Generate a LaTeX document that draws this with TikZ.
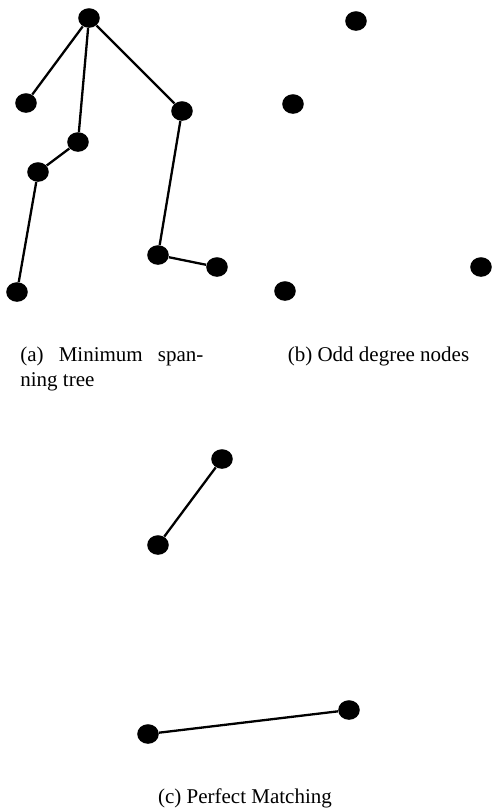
\documentclass[tikz,border=0pt]{standalone}
\usepackage{fontspec}
\setmainfont{Liberation Serif}
\usetikzlibrary{shapes.geometric}
\tikzset{
  vtx/.style={ellipse, fill=black, draw=none, inner sep=0pt, minimum width=10.8pt, minimum height=9.8pt},
  edge/.style={line width=1.15pt, black},
  captxt/.style={inner sep=0pt, font=\fontsize{10.5}{12.6}\selectfont}
}
\begin{document}
\begin{tikzpicture}[x=0.5pt, y=-0.5pt]
\useasboundingbox (0,0) rectangle (492,810);
% (a) minimum spanning tree
\node[vtx] (a1) at (89,18) {};
\node[vtx] (a2) at (26,103) {};
\node[vtx] (a3) at (78,142) {};
\node[vtx] (a4) at (38,172) {};
\node[vtx] (a5) at (17,292) {};
\node[vtx] (a6) at (182,111) {};
\node[vtx] (a7) at (158,255) {};
\node[vtx] (a8) at (217,267) {};
\draw[edge] (a1) -- (a2);
\draw[edge] (a1) -- (a3);
\draw[edge] (a1) -- (a6);
\draw[edge] (a3) -- (a4);
\draw[edge] (a4) -- (a5);
\draw[edge] (a6) -- (a7);
\draw[edge] (a7) -- (a8);
% (b) odd degree nodes
\node[vtx] (b1) at (356,21) {};
\node[vtx] (b2) at (293,104) {};
\node[vtx] (b3) at (285,291) {};
\node[vtx] (b4) at (481,267) {};
% (c) perfect matching
\node[vtx] (c1) at (222,459) {};
\node[vtx] (c2) at (158,545) {};
\node[vtx] (c3) at (148,734) {};
\node[vtx] (c4) at (349,710) {};
\draw[edge] (c1) -- (c2);
\draw[edge] (c3) -- (c4);
% captions
\node[captxt, anchor=base west, text width=91.5pt, align=justify] (capa) at (20,361) {(a) Minimum span-\linebreak ning tree};
\node[captxt, anchor=base] (capb) at (378.5,361) {(b) Odd degree nodes};
\node[captxt, anchor=base] (capc) at (245,803) {(c) Perfect Matching};
\end{tikzpicture}
\end{document}
